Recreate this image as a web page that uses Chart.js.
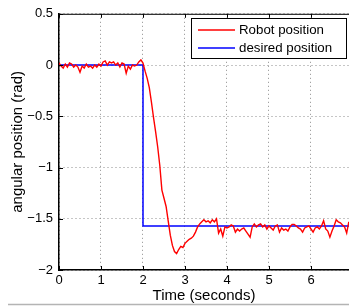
<!DOCTYPE html>
<html>
<head>
<meta charset="utf-8">
<script src="https://cdn.jsdelivr.net/npm/chart.js@4/dist/chart.umd.min.js"></script>
<style>
html,body{margin:0;padding:0;background:#fff;}
#wrap{width:349px;height:308px;position:relative;}
</style>
</head>
<body>
<div id="wrap"><canvas id="c" width="349" height="308"></canvas></div>
<script>
// ---- data ----
const robotTimes = [0.00,0.05,0.10,0.15,0.20,0.25,0.30,0.35,0.40,0.45,0.50,0.55,0.60,0.65,0.70,0.75,0.80,0.85,0.90,0.95,
1.00,1.05,1.10,1.15,1.20,1.25,1.30,1.35,1.40,1.45,1.50,1.55,1.60,1.65,1.70,1.75,1.80,1.85,1.90,1.95,
2.00,2.05,2.10,2.15,2.20,2.25,2.30,2.35,2.40,2.45,2.50,2.55,2.60,2.65,2.70,2.75,2.80,2.85,2.90,2.95,
3.00,3.05,3.10,3.15,3.20,3.25,3.30,3.35,3.40,3.45,3.50,3.55,3.60,3.65,3.70,3.75,3.80,3.85,3.90,3.95,
4.00,4.05,4.10,4.15,4.20,4.25,4.30,4.35,4.40,4.45,4.50,4.55,4.60,4.65,4.70,4.75,4.80,4.85,4.90,4.95,
5.00,5.05,5.10,5.15,5.20,5.25,5.30,5.35,5.40,5.45,5.50,5.55,5.60,5.65,5.70,5.75,5.80,5.85,5.90,5.95,
6.00,6.05,6.10,6.15,6.20,6.25,6.30,6.35,6.40,6.45,6.50,6.55,6.60,6.65,6.70,6.75,6.80,6.85,6.90];
const robotValues = [0.02,-0.01,-0.03,0.01,-0.02,0.02,0.01,-0.02,0.00,-0.02,-0.07,-0.01,-0.03,0.01,-0.02,-0.01,-0.03,0.00,-0.02,0.01,
-0.01,0.03,0.04,0.00,0.03,0.02,0.03,0.00,0.02,-0.02,0.02,0.01,-0.08,-0.01,-0.04,0.00,-0.01,0.00,0.03,0.05,
0.02,-0.06,-0.13,-0.22,-0.36,-0.51,-0.65,-0.80,-0.98,-1.22,-1.30,-1.38,-1.52,-1.66,-1.76,-1.82,-1.84,-1.80,-1.77,-1.78,
-1.74,-1.72,-1.70,-1.69,-1.67,-1.63,-1.58,-1.55,-1.53,-1.51,-1.53,-1.52,-1.54,-1.51,-1.53,-1.50,-1.64,-1.60,-1.67,-1.58,
-1.59,-1.58,-1.56,-1.57,-1.63,-1.60,-1.62,-1.60,-1.59,-1.62,-1.65,-1.68,-1.58,-1.55,-1.58,-1.56,-1.55,-1.58,-1.56,-1.60,
-1.57,-1.59,-1.61,-1.57,-1.56,-1.63,-1.59,-1.61,-1.60,-1.62,-1.58,-1.555,-1.555,-1.57,-1.59,-1.60,-1.63,-1.59,-1.58,-1.57,
-1.60,-1.63,-1.59,-1.58,-1.60,-1.57,-1.52,-1.60,-1.62,-1.68,-1.62,-1.57,-1.51,-1.53,-1.54,-1.56,-1.58,-1.64,-1.53];
const desiredTimes = [0, 2, 2, 7];
const desiredValues = [0, 0, -1.5708, -1.5708];
const xTicks = [0,1,2,3,4,5,6];
const yTicks = [0.5,0,-0.5,-1,-1.5,-2];
const seriesLabels = ["Robot position","desired position"];
const xTitle = "Time (seconds)";
const yTitle = "angular position (rad)";

const fmt = v => String(v).replace('-', '\u2212');

const FONT = "'Liberation Sans', Arial, Helvetica, sans-serif";

const boxPlugin = {
  id: 'box',
  afterDraw(chart) {
    const {ctx, chartArea: a, scales} = chart;
    ctx.save();
    ctx.strokeStyle = '#000';
    ctx.lineWidth = 1;
    ctx.beginPath();
    ctx.moveTo(a.left, a.top + 0.5);
    ctx.lineTo(a.right, a.top + 0.5);
    ctx.stroke();
    ctx.beginPath();
    scales.x.ticks.forEach(t => {
      const x = Math.round(scales.x.getPixelForValue(t.value)) + 0.5;
      ctx.moveTo(x, a.bottom); ctx.lineTo(x, a.bottom - 4);
      ctx.moveTo(x, a.top); ctx.lineTo(x, a.top + 4);
    });
    scales.y.ticks.forEach(t => {
      const y = Math.round(scales.y.getPixelForValue(t.value)) + 0.5;
      ctx.moveTo(a.left, y); ctx.lineTo(a.left + 4, y);
    });
    ctx.stroke();
    const lx = 191.5, ly = 18.5, lw = 155, lh = 40;
    ctx.fillStyle = '#fff';
    ctx.fillRect(lx, ly, lw, lh);
    ctx.strokeRect(lx, ly, lw, lh);
    const colors = ['#ff0000', '#0000ff'];
    const rows = [30, 48];
    ctx.font = "13.3px " + FONT;
    ctx.textBaseline = 'middle';
    seriesLabels.forEach((lab, i) => {
      ctx.strokeStyle = colors[i];
      ctx.lineWidth = 1.3;
      ctx.beginPath();
      ctx.moveTo(198, rows[i]); ctx.lineTo(235, rows[i]);
      ctx.stroke();
      ctx.fillStyle = '#000';
      ctx.fillText(lab, 239, rows[i] + 0.5);
    });
    ctx.strokeStyle = '#b4b4b4';
    ctx.lineWidth = 1.5;
    ctx.beginPath();
    ctx.moveTo(8, 304.5); ctx.lineTo(349, 304.5);
    ctx.stroke();
    ctx.restore();
  }
};

new Chart(document.getElementById('c'), {
  type: 'scatter',
  data: {
    datasets: [
      {
        label: seriesLabels[0],
        data: robotTimes.map((t, i) => ({x: t, y: robotValues[i]})),
        showLine: true, borderColor: '#ff0000', borderWidth: 1.4,
        pointRadius: 0, tension: 0, order: 1
      },
      {
        label: seriesLabels[1],
        data: desiredTimes.map((t, i) => ({x: t, y: desiredValues[i]})),
        showLine: true, borderColor: '#0000ff', borderWidth: 1.5,
        pointRadius: 0, tension: 0, order: 2
      }
    ]
  },
  options: {
    responsive: false,
    animation: false,
    devicePixelRatio: 1,
    layout: {padding: {top: 13, left: 0, right: 0, bottom: 0}},
    plugins: {legend: {display: false}, tooltip: {enabled: false}},
    scales: {
      x: {
        type: 'linear', min: 0, max: 6.905,
        afterFit(s) { s.height = 38; },
        afterBuildTicks(s) { s.ticks = xTicks.map(v => ({value: v})); },
        grid: {color: '#8c8c8c', lineWidth: 1, drawTicks: false},
        border: {display: true, color: '#000', width: 1.5, dash: [1, 3]},
        ticks: {
          color: '#000', padding: 3, maxRotation: 0,
          font: {family: FONT, size: 13},
          callback: v => fmt(v)
        },
        title: {
          display: true, text: xTitle, color: '#000',
          font: {family: FONT, size: 15}, padding: {top: 0, bottom: 3}
        }
      },
      y: {
        type: 'linear', min: -2, max: 0.5,
        afterFit(s) { s.width = 59; },
        afterBuildTicks(s) { s.ticks = yTicks.map(v => ({value: v})); },
        grid: {color: '#8c8c8c', lineWidth: 1, drawTicks: false},
        border: {display: true, color: '#000', width: 1.5, dash: [1, 3]},
        ticks: {
          color: '#000', padding: 6,
          font: {family: FONT, size: 13},
          callback: v => fmt(v)
        },
        title: {
          display: true, text: yTitle, color: '#000',
          font: {family: FONT, size: 15}, padding: {top: 9, bottom: 0}
        }
      }
    }
  },
  plugins: [boxPlugin]
});
</script>
</body>
</html>
